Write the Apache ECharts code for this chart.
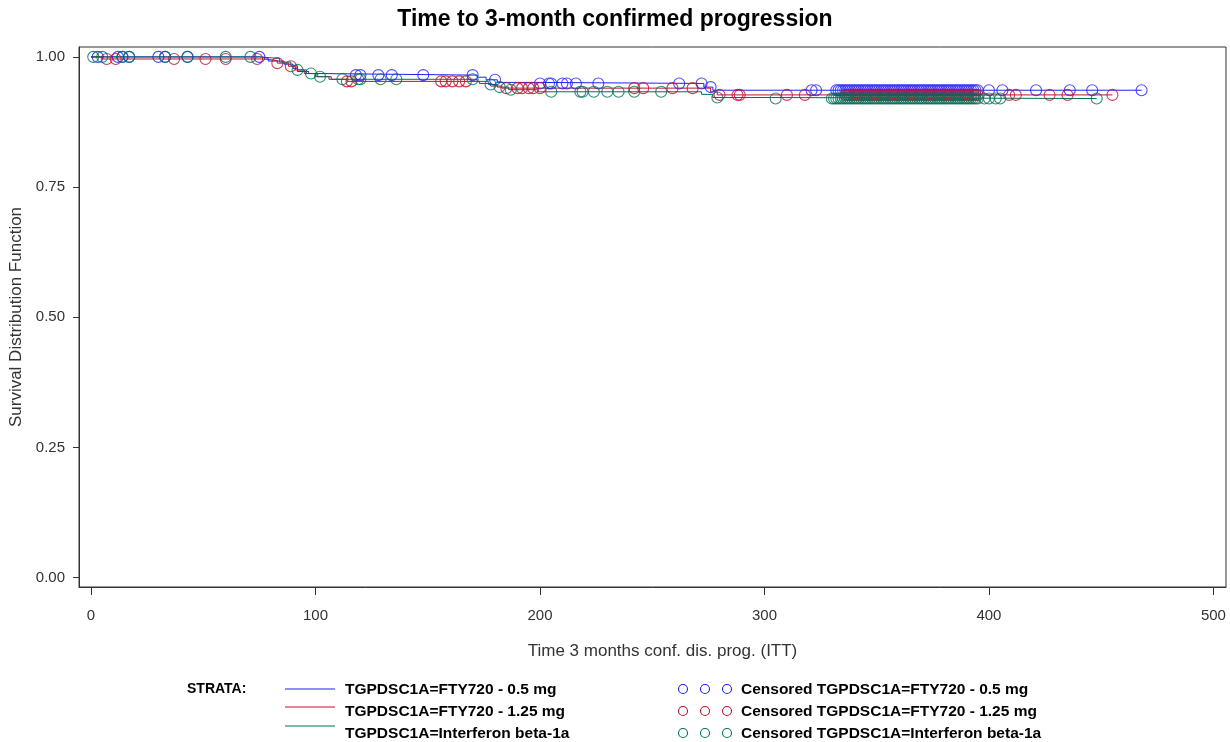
<!DOCTYPE html>
<html>
<head>
<meta charset="utf-8">
<script src="https://cdn.jsdelivr.net/npm/echarts@6/dist/echarts.min.js"></script>
<style>
html,body{margin:0;padding:0;background:#fff;}
#chart{width:1230px;height:742px;}
</style>
</head>
<body>
<div id="chart"></div>
<script>
// ---- Data ----
var titleText = 'Time to 3-month confirmed progression';
var xAxisTitle = 'Time 3 months conf. dis. prog. (ITT)';
var yAxisTitle = 'Survival Distribution Function';
var xTicks = [0, 100, 200, 300, 400, 500];
var yTicks = [0, 0.25, 0.5, 0.75, 1.0];

var groupNames = ['TGPDSC1A=FTY720 - 0.5 mg', 'TGPDSC1A=FTY720 - 1.25 mg', 'TGPDSC1A=Interferon beta-1a'];
var censorNames = ['Censored TGPDSC1A=FTY720 - 0.5 mg', 'Censored TGPDSC1A=FTY720 - 1.25 mg', 'Censored TGPDSC1A=Interferon beta-1a'];
var strataLabel = 'STRATA:';

// Kaplan-Meier steps: [time, survival after time]
var blueSteps = [[0,1.0],[76,0.997],[79,0.992],[86,0.986],[90,0.978],[92,0.972],[97,0.968],[102,0.965],[172,0.961],[176,0.956],[181,0.951],[198,0.949],[273,0.942],[277,0.936],[468,0.936]];
var redSteps = [[0,1.0],[5,0.996],[77,0.993],[83,0.988],[88,0.982],[91,0.975],[95,0.968],[100,0.962],[107,0.957],[114,0.953],[173,0.949],[178,0.944],[183,0.940],[276,0.933],[279,0.927],[455,0.927]];
var greenSteps = [[0,1.0],[75,0.997],[84,0.990],[89,0.983],[92,0.975],[96,0.968],[101,0.962],[106,0.957],[172,0.953],[177,0.947],[181,0.942],[186,0.937],[199,0.933],[272,0.928],[277,0.922],[303,0.920],[448,0.920]];

// Censoring times
var blueCens = [3,12,14,17,30,33,43,75,118,120,128,134,148,170,180,200,204,205,210,212,216,226,262,272,276,321,323,
  332,333,334,335,336,337,338,339,340,341,342,343,344,345,346,347,348,349,350,351,352,353,354,355,356,357,358,359,360,
  361,362,363,364,365,366,367,368,369,370,371,372,373,374,375,376,377,378,379,380,381,382,383,384,385,386,387,388,389,
  390,391,392,393,394,395,400,406,421,436,446,468];
var redCens = [7,11,37,51,60,74,83,89,114,116,156,158,161,164,167,185,190,192,195,197,200,242,246,259,268,280,288,289,310,318,
  336,337,338,339,340,341,342,343,344,345,346,347,348,349,350,351,352,353,354,355,356,357,358,359,360,361,362,363,364,
  365,366,367,368,369,370,371,372,373,374,375,376,377,378,379,380,381,382,383,384,385,386,387,388,389,390,391,392,393,
  394,395,409,412,427,435,455];
var greenCens = [1,5,14,17,33,43,60,71,92,98,102,112,119,120,129,136,170,178,182,187,205,218,219,224,230,235,242,254,279,305,
  330,331,332,333,334,335,336,337,338,339,340,341,342,343,344,345,346,347,348,349,350,351,352,353,354,355,356,357,358,
  359,360,361,362,363,364,365,366,367,368,369,370,371,372,373,374,375,376,377,378,379,380,381,382,383,384,385,386,387,
  388,389,390,391,392,393,394,395,398,400,403,405,448];

var colors = ['#2020f4', '#c0102c', '#00705a'];

// ---- Build ----
function survAt(steps, t) {
  var s = steps[0][1];
  for (var i = 0; i < steps.length; i++) { if (steps[i][0] <= t) s = steps[i][1]; }
  return s;
}
function censPts(steps, times) { return times.map(function (t) { return [t, survAt(steps, t)]; }); }

var stepsAll = [blueSteps, redSteps, greenSteps];
var censAll = [blueCens, redCens, greenCens];

var series = [];
for (var g = 0; g < 3; g++) {
  series.push({
    type: 'line', name: groupNames[g], data: stepsAll[g], step: 'end', showSymbol: false,
    lineStyle: { color: colors[g], width: 1 }, z: 3, animation: false
  });
}
for (var g2 = 0; g2 < 3; g2++) {
  series.push({
    type: 'scatter', name: censorNames[g2], data: censPts(stepsAll[g2], censAll[g2]),
    symbol: 'circle', symbolSize: 11,
    itemStyle: { color: 'rgba(0,0,0,0)', borderColor: colors[g2], borderWidth: 1.1 }, z: 4, animation: false
  });
}

var FONT = "'Liberation Sans', Arial, sans-serif";
var legendFont = "bold 15.5px 'Liberation Sans', Arial, sans-serif";
var graphics = [];
graphics.push({ type: 'text', left: 187, top: 682, style: { text: strataLabel, font: "bold 14px 'Liberation Sans', Arial, sans-serif", fill: '#000' } });
var rowsY = [690, 712, 734];
var lineY = [689, 707, 726];
var cx = [683, 705, 727];
for (var r = 0; r < 3; r++) {
  graphics.push({ type: 'line', shape: { x1: 285, y1: lineY[r], x2: 335, y2: lineY[r] }, style: { stroke: colors[r], lineWidth: 1 } });
  graphics.push({ type: 'text', x: 345, y: rowsY[r], style: { text: groupNames[r], font: legendFont, fill: '#000', textVerticalAlign: 'middle' } });
  for (var k = 0; k < 3; k++) {
    graphics.push({ type: 'circle', shape: { cx: cx[k], cy: rowsY[r] - 1, r: 4.5 }, style: { fill: 'none', stroke: colors[r], lineWidth: 1.1 } });
  }
  graphics.push({ type: 'text', x: 741, y: rowsY[r], style: { text: censorNames[r], font: legendFont, fill: '#000', textVerticalAlign: 'middle' } });
}

var chart = echarts.init(document.getElementById('chart'), null, { renderer: 'canvas' });
chart.setOption({
  animation: false,
  backgroundColor: '#fff',
  title: {
    text: titleText, left: 'center', top: 3,
    textStyle: { fontFamily: FONT, fontSize: 23, fontWeight: 'bold', color: '#000' }
  },
  grid: { left: 79, right: 4, top: 47, bottom: 155, outerBoundsMode: 'none', containLabel: false,
    show: true, borderColor: '#333', borderWidth: 1, backgroundColor: 'transparent' },
  xAxis: {
    type: 'value', min: -5.35, max: 505.6,
    name: xAxisTitle, nameLocation: 'middle', nameGap: 56,
    nameTextStyle: { fontFamily: FONT, fontSize: 17, color: '#333', padding: [0, 0, 0, 20] },
    axisLine: { show: true, onZero: false, lineStyle: { color: '#333', width: 1 } },
    axisTick: { show: true, length: 8, customValues: xTicks, lineStyle: { color: '#333' } },
    axisLabel: { customValues: xTicks, margin: 21, fontFamily: FONT, fontSize: 15, color: '#333' },
    splitLine: { show: false }
  },
  yAxis: {
    type: 'value', min: -0.018, max: 1.019,
    name: yAxisTitle, nameLocation: 'middle', nameGap: 51, nameRotate: 90,
    nameTextStyle: { fontFamily: FONT, fontSize: 17, color: '#333' },
    axisLine: { show: true, onZero: false, lineStyle: { color: '#333', width: 1 } },
    axisTick: { show: true, length: 6, customValues: yTicks, lineStyle: { color: '#333' } },
    axisLabel: { customValues: yTicks, margin: 14, fontFamily: FONT, fontSize: 15, color: '#333',
      formatter: function (v) { return v.toFixed(2); } },
    splitLine: { show: false }
  },
  series: series,
  graphic: graphics
});
</script>
</body>
</html>
